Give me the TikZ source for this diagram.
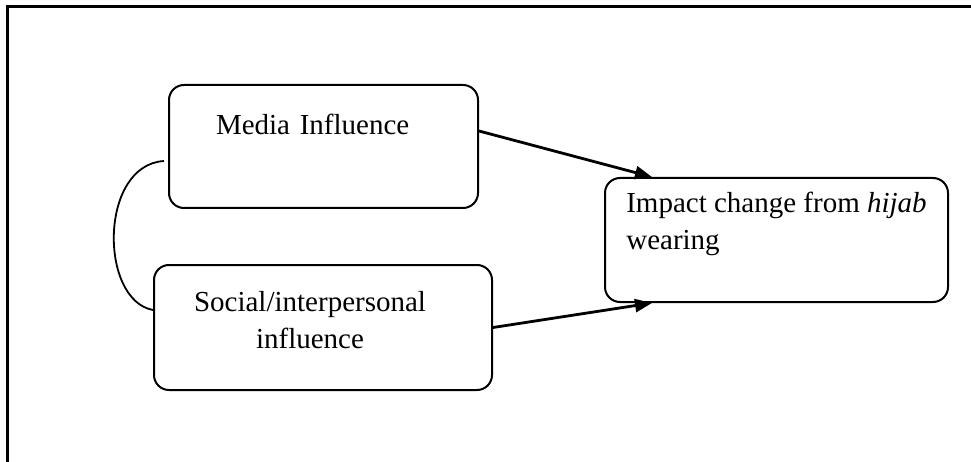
\documentclass[tikz,border=0pt]{standalone}
\usepackage{fontspec}
\setmainfont{Liberation Serif}
\usetikzlibrary{arrows.meta}

\begin{document}
\begin{tikzpicture}[x=1pt, y=-1pt,
    font=\fontsize{29pt}{37pt}\selectfont,
    box/.style={draw, rounded corners=15pt, line width=2pt, inner sep=0pt},
    arr/.style={-{Triangle[length=17pt,width=13pt]}, line width=2.8pt},
    link/.style={line width=1.8pt},
    frame/.style={line width=2.2pt}
]
\useasboundingbox (0,0) rectangle (971,462);
\draw[frame] (7.5,462) |- (971,6.5);

\node[box, minimum width=309pt, minimum height=123pt, text width=215pt, align=left, text height=20pt, text depth=43pt] (media) at (323.5,146.5) {Media Influence};
\node[box, minimum width=338pt, minimum height=125pt, align=center, text height=51pt, text depth=10pt] (social) at (323,327.5) {Social/interpersonal\hspace*{26pt}\\influence\hspace*{26pt}};
\node[box, minimum width=343pt, minimum height=124pt, align=left, text height=30pt, text depth=10pt] (impact) at (776.5,240) {Impact change from \textit{hijab}\\wearing};

\draw[arr] ([yshift=15.5pt]media.east) -- ([xshift=48pt]impact.north west);
\draw[arr] (social.east) -- ([xshift=48pt]impact.south west);
\draw[link] ([xshift=-4pt,yshift=-14.5pt]media.west) .. controls +(-65,4) and +(-54,-10) .. ([yshift=17.5pt]social.west);
\end{tikzpicture}
\end{document}
